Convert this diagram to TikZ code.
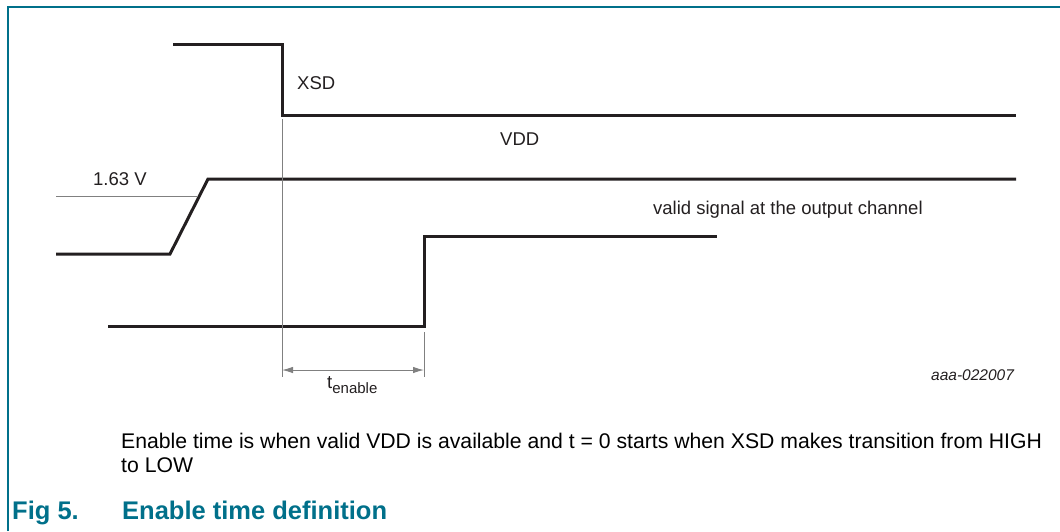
\documentclass[tikz,border=0pt]{standalone}
\usepackage{fontspec}
\setmainfont{Liberation Sans}
\usetikzlibrary{positioning}
\usetikzlibrary{arrows.meta}

\definecolor{figteal}{RGB}{0,112,138}
\definecolor{ink}{RGB}{35,31,32}

\begin{document}
\begin{tikzpicture}[x=1pt, y=-1pt,
    wave/.style={ink, line width=3pt},
    guide/.style={gray, line width=1pt},
    lbl/.style={anchor=base west, inner sep=0pt, text=ink, font=\fontsize{18.5}{22}\selectfont},
    caption/.style={anchor=base west, inner sep=0pt, text=black, font=\fontsize{21.2}{25}\selectfont},
    title/.style={anchor=base west, inner sep=0pt, text=figteal, font=\fontsize{25.5}{29}\selectfont\bfseries}]
  \useasboundingbox (0,0) rectangle (1060,531);

  % frame
  \draw[figteal, line width=1.5pt] (8,531) -- (8,7) -- (1060,7);

  % XSD
  \coordinate (xa) at (173,44);
  \coordinate (xb) at (282,44);
  \coordinate (xc) at (282,115);
  \coordinate (xd) at (1016,115);
  \draw[wave] (xa) -- (xb) -- (xc) -- (xd);

  % VDD
  \coordinate (va) at (56,254);
  \coordinate (vb) at (170,254);
  \coordinate (vc) at (208,179);
  \coordinate (vd) at (1016,179);
  \draw[wave] (va) -- (vb) -- (vc) -- (vd);

  % output channel
  \coordinate (oa) at (108,326);
  \coordinate (ob) at (424,326);
  \coordinate (oc) at (424,236);
  \coordinate (od) at (717,236);
  \draw[wave] (oa) -- (ob) -- (oc) -- (od);

  % 1.63 V level
  \coordinate (lv) at (56,196);
  \coordinate (lw) at (198,196);
  \draw[guide] (lv) -- (lw);

  % t = 0 and end of t_enable
  \coordinate (g0) at (282,119);
  \coordinate (g1) at (282,377);
  \coordinate (h0) at (424,332);
  \coordinate (h1) at (424,377);
  \draw[guide] (g0) -- (g1);
  \draw[guide] (h0) -- (h1);

  \coordinate (d0) at (282,370);
  \coordinate (d1) at (424,370);
  \draw[guide, {Latex[length=11pt,width=6.5pt]}-{Latex[length=11pt,width=6.5pt]}] (d0) -- (d1);

  % labels
  \node[lbl] (xsd) at (297,89) {XSD};
  \node[lbl] (vdd) at (500,145) {VDD};
  \node[lbl] (lvl) at (93,185) {1.63 V};
  \node[lbl] (valid) at (653,214) {valid signal at the output channel};
  \node[lbl] (ten) at (327,388) {t\raisebox{-5pt}{\fontsize{15}{15}\selectfont enable}};
  \node[lbl, font=\fontsize{15.5}{18}\selectfont\itshape] (code) at (931,380) {aaa-022007};

  % caption
  \node[caption] (cap1) at (121,448) {Enable time is when valid VDD is available and t = 0 starts when XSD makes transition from HIGH};
  \node[caption] (cap2) at (121,472) {to LOW};

  \node[title] (fig) at (12,519) {Fig 5.};
  \node[title] (figname) at (122,519) {Enable time definition};
\end{tikzpicture}
\end{document}
